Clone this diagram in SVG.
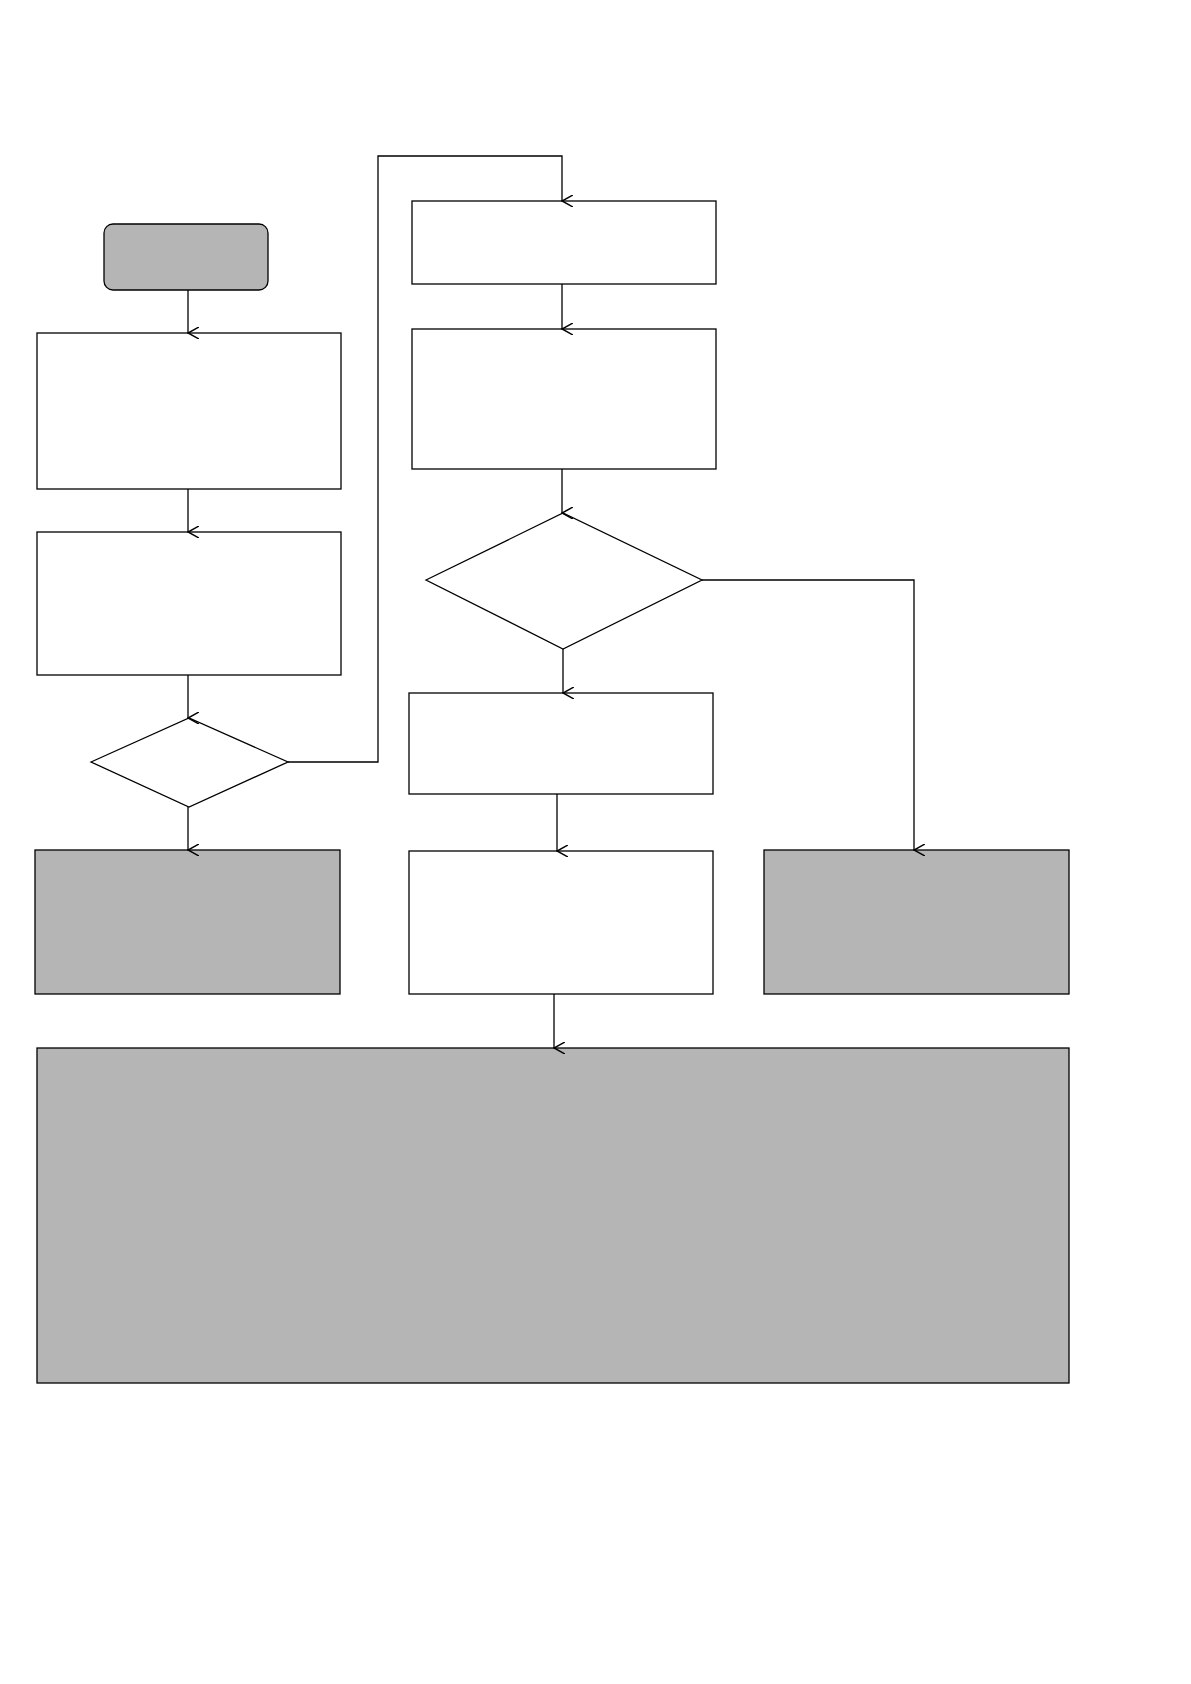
<svg xmlns="http://www.w3.org/2000/svg" width="1191" height="1684" viewBox="0 0 1191 1684">
<style>
.n{fill:#fff;stroke:#000;stroke-width:1.3}
.g{fill:#b5b5b5;stroke:#000;stroke-width:1.3}
.c{fill:none;stroke:#000;stroke-width:1.3}
</style>
<defs><marker id="a" markerWidth="12" markerHeight="12" refX="6" refY="11" orient="auto" markerUnits="userSpaceOnUse" viewBox="0 0 12 12"><path d="M0,0 L6,11 L12,0" fill="none" stroke="#000" stroke-width="1.5"/></marker></defs>
<rect width="1191" height="1684" fill="#fff"/>
<g id="start"><rect class="g" x="104" y="224" width="164" height="66" rx="9"/></g>
<g id="box1"><rect class="n" x="37" y="333" width="304" height="156"/></g>
<g id="box2"><rect class="n" x="37" y="532" width="304" height="143"/></g>
<g id="dec1"><polygon class="n" points="91,762 189,718 288,762 189,807"/></g>
<g id="grayL"><rect class="g" x="35" y="850" width="305" height="144"/></g>
<g id="boxR1"><rect class="n" x="412" y="201" width="304" height="83"/></g>
<g id="boxR2"><rect class="n" x="412" y="329" width="304" height="140"/></g>
<g id="dec2"><polygon class="n" points="426,580 563,513 702,580 563,649"/></g>
<g id="boxM1"><rect class="n" x="409" y="693" width="304" height="101"/></g>
<g id="boxM2"><rect class="n" x="409" y="851" width="304" height="143"/></g>
<g id="grayR"><rect class="g" x="764" y="850" width="305" height="144"/></g>
<g id="final"><rect class="g" x="37" y="1048" width="1032" height="335"/></g>
<g id="connectors">
<path class="c" d="M188,290 V333" marker-end="url(#a)"/>
<path class="c" d="M188,489 V532" marker-end="url(#a)"/>
<path class="c" d="M188,675 V718" marker-end="url(#a)"/>
<path class="c" d="M188,807 V850" marker-end="url(#a)"/>
<path class="c" d="M288,762 H378 V156 H562 V201" marker-end="url(#a)"/>
<path class="c" d="M562,284 V329" marker-end="url(#a)"/>
<path class="c" d="M562,469 V513" marker-end="url(#a)"/>
<path class="c" d="M563,649 V693" marker-end="url(#a)"/>
<path class="c" d="M557,794 V851" marker-end="url(#a)"/>
<path class="c" d="M702,580 H914 V850" marker-end="url(#a)"/>
<path class="c" d="M554,994 V1048" marker-end="url(#a)"/>
</g>
</svg>
